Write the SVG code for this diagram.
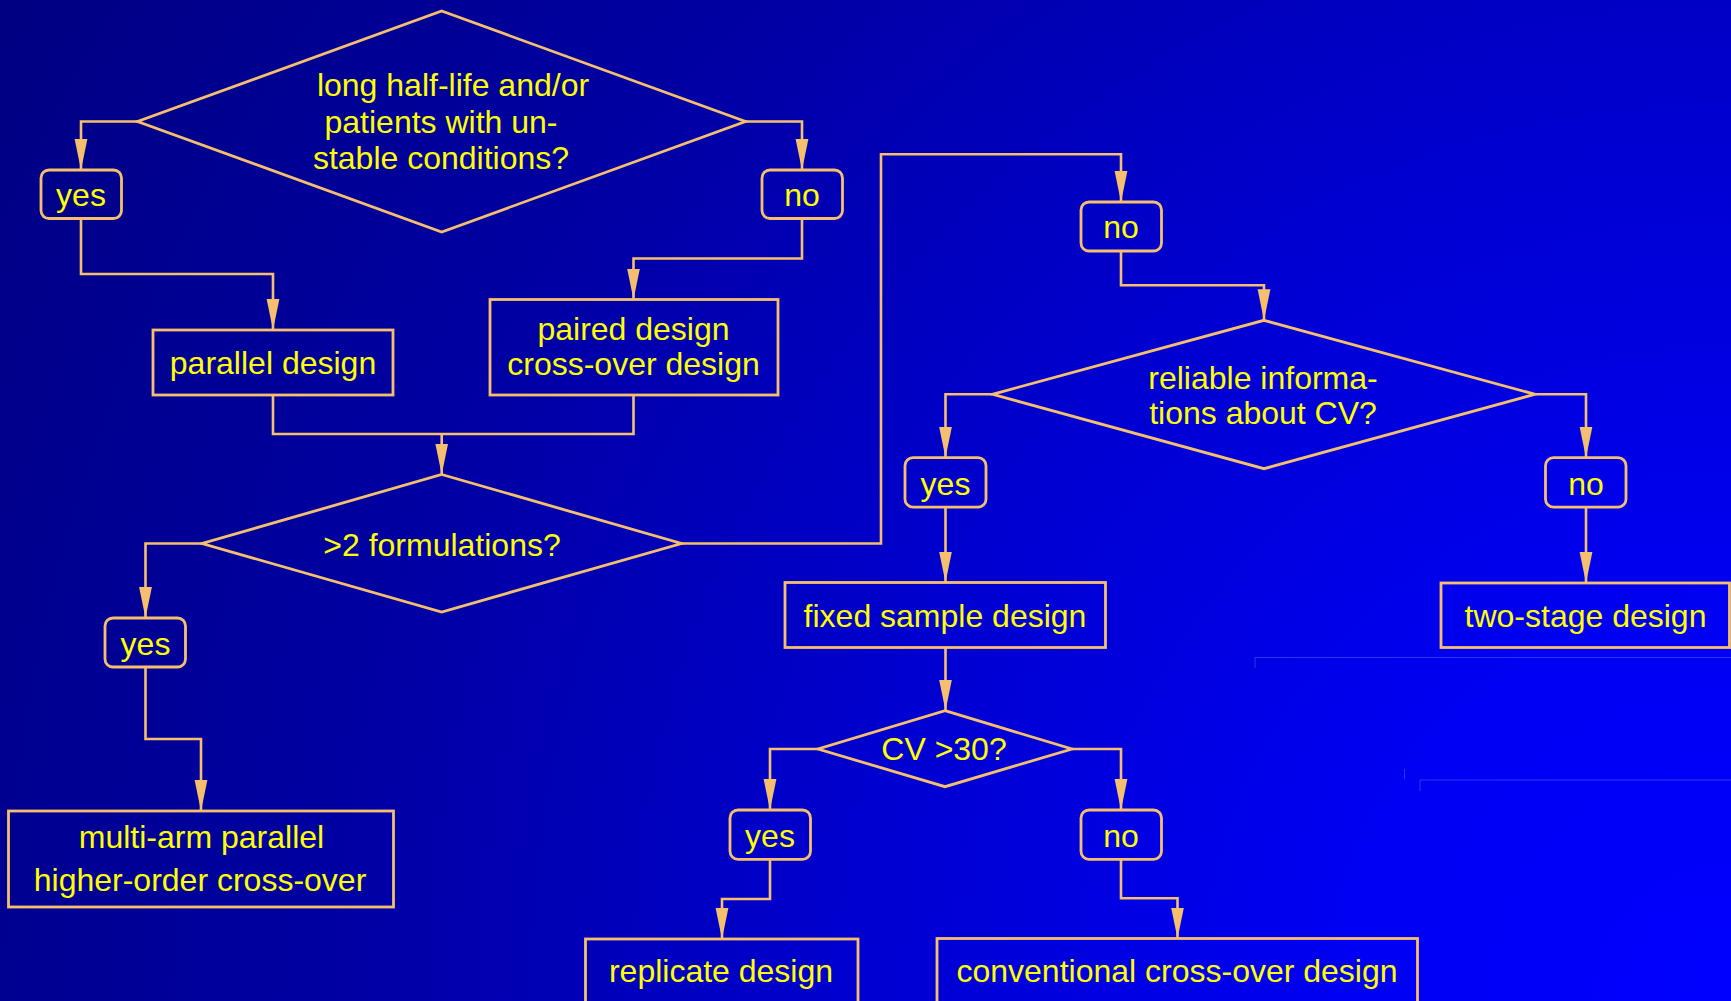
<svg xmlns="http://www.w3.org/2000/svg" width="1731" height="1001" viewBox="0 0 1731 1001">
<defs>
<radialGradient id="bg" gradientUnits="userSpaceOnUse" cx="1731" cy="1001" r="2000">
<stop offset="0" stop-color="#0000FF"/>
<stop offset="0.2" stop-color="#0000F2"/>
<stop offset="0.45" stop-color="#0000CE"/>
<stop offset="0.7" stop-color="#0000A2"/>
<stop offset="1" stop-color="#000082"/>
</radialGradient>
<marker id="ah" markerUnits="userSpaceOnUse" markerWidth="32" markerHeight="14" viewBox="0 0 32 14" refX="31" refY="7" orient="auto">
<path d="M0,0.6 L31,7 L0,13.4 Z" fill="#F6BF6E"/>
</marker>
<style>
.shape{fill:none;stroke:#F6BF6E;stroke-width:2.8;stroke-linejoin:miter}
.conn{fill:none;stroke:#F6BF6E;stroke-width:2.6}
.arr{marker-end:url(#ah)}
text{font-family:"Liberation Sans",Arial,Helvetica,sans-serif;font-size:32px;fill:#FFFF00;text-anchor:middle}
.art{stroke:#4A66FF;stroke-width:1;fill:none}
</style>
</defs>
<rect x="0" y="0" width="1731" height="1001" fill="url(#bg)"/>
<g id="artifacts" opacity="0.55">
<path class="art" d="M1255,657.5 V668 M1255,657.5 H1731"/>
<path class="art" d="M1404.5,769 V779"/>
<path class="art" d="M1420,791 V780 H1731"/>
</g>
<g id="connectors">
<path class="conn arr" d="M137.5,121.5 H81 V170"/>
<path class="conn arr" d="M745.5,121.5 H802 V170"/>
<path class="conn arr" d="M81,218 V274 H273 V330"/>
<path class="conn arr" d="M802,218 V258.5 H633.5 V299.5"/>
<path class="conn" d="M273,395 V434 H633.5 V395"/>
<path class="conn arr" d="M441.7,434 V474.5"/>
<path class="conn arr" d="M202,543.5 H145.5 V618"/>
<path class="conn arr" d="M145.5,667 V739 H201 V811"/>
<path class="conn arr" d="M681.5,543.5 H881 V154.3 H1121 V202"/>
<path class="conn arr" d="M1121,251 V285.3 H1264 V320.3"/>
<path class="conn arr" d="M992.5,394.3 H945.5 V457.7"/>
<path class="conn arr" d="M1535,394.3 H1586 V457.7"/>
<path class="conn arr" d="M945.5,507.2 V582.5"/>
<path class="conn arr" d="M1586,507.2 V583"/>
<path class="conn arr" d="M945.5,647.5 V710.7"/>
<path class="conn arr" d="M818,749 H770 V810"/>
<path class="conn arr" d="M1072,749 H1121 V810"/>
<path class="conn arr" d="M770,859.3 V899 H722 V939"/>
<path class="conn arr" d="M1121,859.3 V898.3 H1177.5 V938.5"/>
</g>
<g id="q1">
<polygon class="shape" points="441.7,11 745.5,121.5 441.7,232 137.5,121.5"/>
<text x="453" y="96">long half-life and/or</text>
<text x="441" y="132.7">patients with un-</text>
<text x="441" y="168.5">stable conditions?</text>
</g>
<g id="yes1"><rect class="shape" x="41" y="170" width="80.5" height="48.5" rx="8"/><text x="81" y="206">yes</text></g>
<g id="no1"><rect class="shape" x="762" y="170" width="80.5" height="48.5" rx="8"/><text x="802" y="206">no</text></g>
<g id="parallel"><rect class="shape" x="153" y="330" width="240" height="65"/><text x="273" y="374">parallel design</text></g>
<g id="paired"><rect class="shape" x="490" y="299.5" width="288" height="95.5"/><text x="633.5" y="339.5">paired design</text><text x="633.5" y="375">cross-over design</text></g>
<g id="q2">
<polygon class="shape" points="441.7,474.5 681.5,543.5 441.7,612 202,543.5"/>
<text x="442" y="555.5">&gt;2 formulations?</text>
</g>
<g id="yes2"><rect class="shape" x="105" y="618" width="80.5" height="49" rx="8"/><text x="145.5" y="654.5">yes</text></g>
<g id="multi"><rect class="shape" x="8.5" y="811" width="385" height="96"/><text x="201.5" y="847.7">multi-arm parallel</text><text x="200" y="891">higher-order cross-over</text></g>
<g id="no2"><rect class="shape" x="1081" y="202" width="80.5" height="49" rx="8"/><text x="1121" y="238">no</text></g>
<g id="q3">
<polygon class="shape" points="1264,320.3 1535,394.3 1264,468.7 992.5,394.3"/>
<text x="1263" y="389">reliable informa-</text>
<text x="1263" y="424">tions about CV?</text>
</g>
<g id="yes3"><rect class="shape" x="905" y="457.7" width="81" height="49.5" rx="8"/><text x="945.5" y="494.5">yes</text></g>
<g id="no3"><rect class="shape" x="1545.5" y="457.7" width="80.5" height="49.5" rx="8"/><text x="1586" y="494.5">no</text></g>
<g id="fixed"><rect class="shape" x="785" y="582.5" width="320.5" height="65"/><text x="945" y="626.5">fixed sample design</text></g>
<g id="twostage"><rect class="shape" x="1441" y="583" width="288.5" height="64.5"/><text x="1585.5" y="627">two-stage design</text></g>
<g id="q4">
<polygon class="shape" points="945,710.7 1072,749 945,786.7 818,749"/>
<text x="944" y="760">CV &gt;30?</text>
</g>
<g id="yes4"><rect class="shape" x="730" y="810" width="80.5" height="49.3" rx="8"/><text x="770" y="846.5">yes</text></g>
<g id="no4"><rect class="shape" x="1081" y="810" width="80.5" height="49.3" rx="8"/><text x="1121" y="846.5">no</text></g>
<g id="replicate"><rect class="shape" x="585.5" y="939" width="272.5" height="80"/><text x="721" y="981.7">replicate design</text></g>
<g id="conventional"><rect class="shape" x="937" y="938.5" width="480.5" height="80"/><text x="1177" y="982">conventional cross-over design</text></g>
</svg>
